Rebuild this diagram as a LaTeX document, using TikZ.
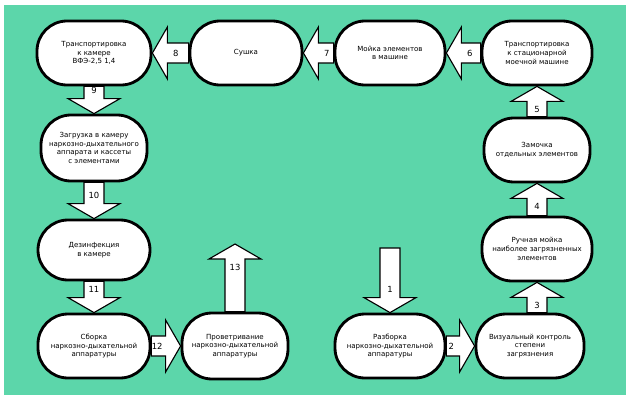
\documentclass[tikz,border=0pt]{standalone}
\usepackage{fontspec}
\setmainfont{DejaVu Sans}
\usepackage{tikz}
\usetikzlibrary{calc}

\definecolor{panelgreen}{RGB}{92,214,170}

\pgfdeclarelayer{panel}
\pgfdeclarelayer{flows}
\pgfsetlayers{panel,flows,main}

% block arrow from #1 to #2 with number #3
\newcommand{\flowarrow}[3]{%
  \coordinate (fa-s) at (#1);
  \coordinate (fa-e) at (#2);
  \coordinate (fa-h) at ($(fa-e)!0.375cm!(fa-s)$);
  \draw[flow] ($(fa-s)!0.25cm!90:(fa-e)$) -- ($(fa-h)!0.25cm!90:(fa-e)$)
    -- ($(fa-h)!0.65cm!90:(fa-e)$) -- (fa-e)
    -- ($(fa-h)!0.65cm!-90:(fa-e)$) -- ($(fa-h)!0.25cm!-90:(fa-e)$)
    -- ($(fa-s)!0.25cm!-90:(fa-e)$) -- cycle;
  \node[flownum] (num#3) at ($(fa-h)!0.21cm!(fa-s)$) {#3};
}

\begin{document}
\begin{tikzpicture}[
  stage/.style={draw, line width=2pt, fill=white, rounded corners=0.75cm,
    minimum width=2.75cm, minimum height=1.6cm, inner sep=1pt, align=center,
    font=\fontsize{5}{6.2}\selectfont},
  flow/.style={draw, line width=0.8pt, fill=white},
  flownum/.style={inner sep=0pt, font=\fontsize{6}{7}\selectfont}
]

\useasboundingbox (0,0) rectangle (15.65,9.975);
\begin{pgfonlayer}{panel}
  \fill[white] (0,0) rectangle (15.65,9.975);
  \fill[panelgreen] (0.1,0.1) rectangle (15.65,9.85);
\end{pgfonlayer}

% top row
\node[stage, minimum width=2.85cm] (trans) at (2.35, 8.65) {Транспортировка\\к камере\\ВФЭ-2,5 1,4};
\node[stage, minimum width=2.8cm] (dry) at (6.15, 8.65) {Сушка};
\node[stage] (wash) at (9.75, 8.65) {Мойка элементов\\в машине};
\node[stage] (tomach) at (13.425, 8.65) {Транспортировка\\к стационарной\\моечной машине};

% right column
\node[stage, minimum width=2.65cm] (soak) at (13.425, 6.225) {Замочка\\отдельных элементов};
\node[stage] (hand) at (13.425, 3.75) {Ручная мойка\\наиболее загрязненных\\элементов};

% bottom row
\node[stage, minimum width=2.7cm] (visual) at (13.25, 1.325) {Визуальный контроль\\степени\\загрязнения};
\node[stage] (disasm) at (9.75, 1.325) {Разборка\\наркозно-дыхательной\\аппаратуры};
\node[stage, minimum width=2.65cm, minimum height=1.65cm] (vent) at (5.875, 1.325) {Проветривание\\наркозно-дыхательной\\аппаратуры};
\node[stage, minimum width=2.8cm] (asm) at (2.35, 1.325) {Сборка\\наркозно-дыхательной\\аппаратуры};

% left column
\node[stage, minimum width=2.8cm, minimum height=1.5cm] (disinf) at (2.35, 3.725) {Дезинфекция\\в камере};
\node[stage, minimum width=2.65cm, minimum height=1.65cm] (load) at (2.35, 6.275) {Загрузка в камеру\\наркозно-дыхательного\\аппарата и кассеты\\с элементами};

\coordinate (start1) at (9.75, 3.775);
\coordinate (end13) at (5.875, 3.875);

\begin{pgfonlayer}{flows}
  \flowarrow{start1}{disasm.north}{1}
  \flowarrow{disasm.east}{visual.west}{2}
  \flowarrow{visual.north -| hand.south}{hand.south}{3}
  \flowarrow{hand.north}{soak.south}{4}
  \flowarrow{soak.north}{tomach.south}{5}
  \flowarrow{tomach.west}{wash.east}{6}
  \flowarrow{wash.west}{dry.east}{7}
  \flowarrow{dry.west}{trans.east}{8}
  \flowarrow{trans.south}{load.north}{9}
  \flowarrow{load.south}{disinf.north}{10}
  \flowarrow{disinf.south}{asm.north}{11}
  \flowarrow{asm.east}{vent.west}{12}
  \flowarrow{vent.north}{end13}{13}
\end{pgfonlayer}

\end{tikzpicture}
\end{document}
